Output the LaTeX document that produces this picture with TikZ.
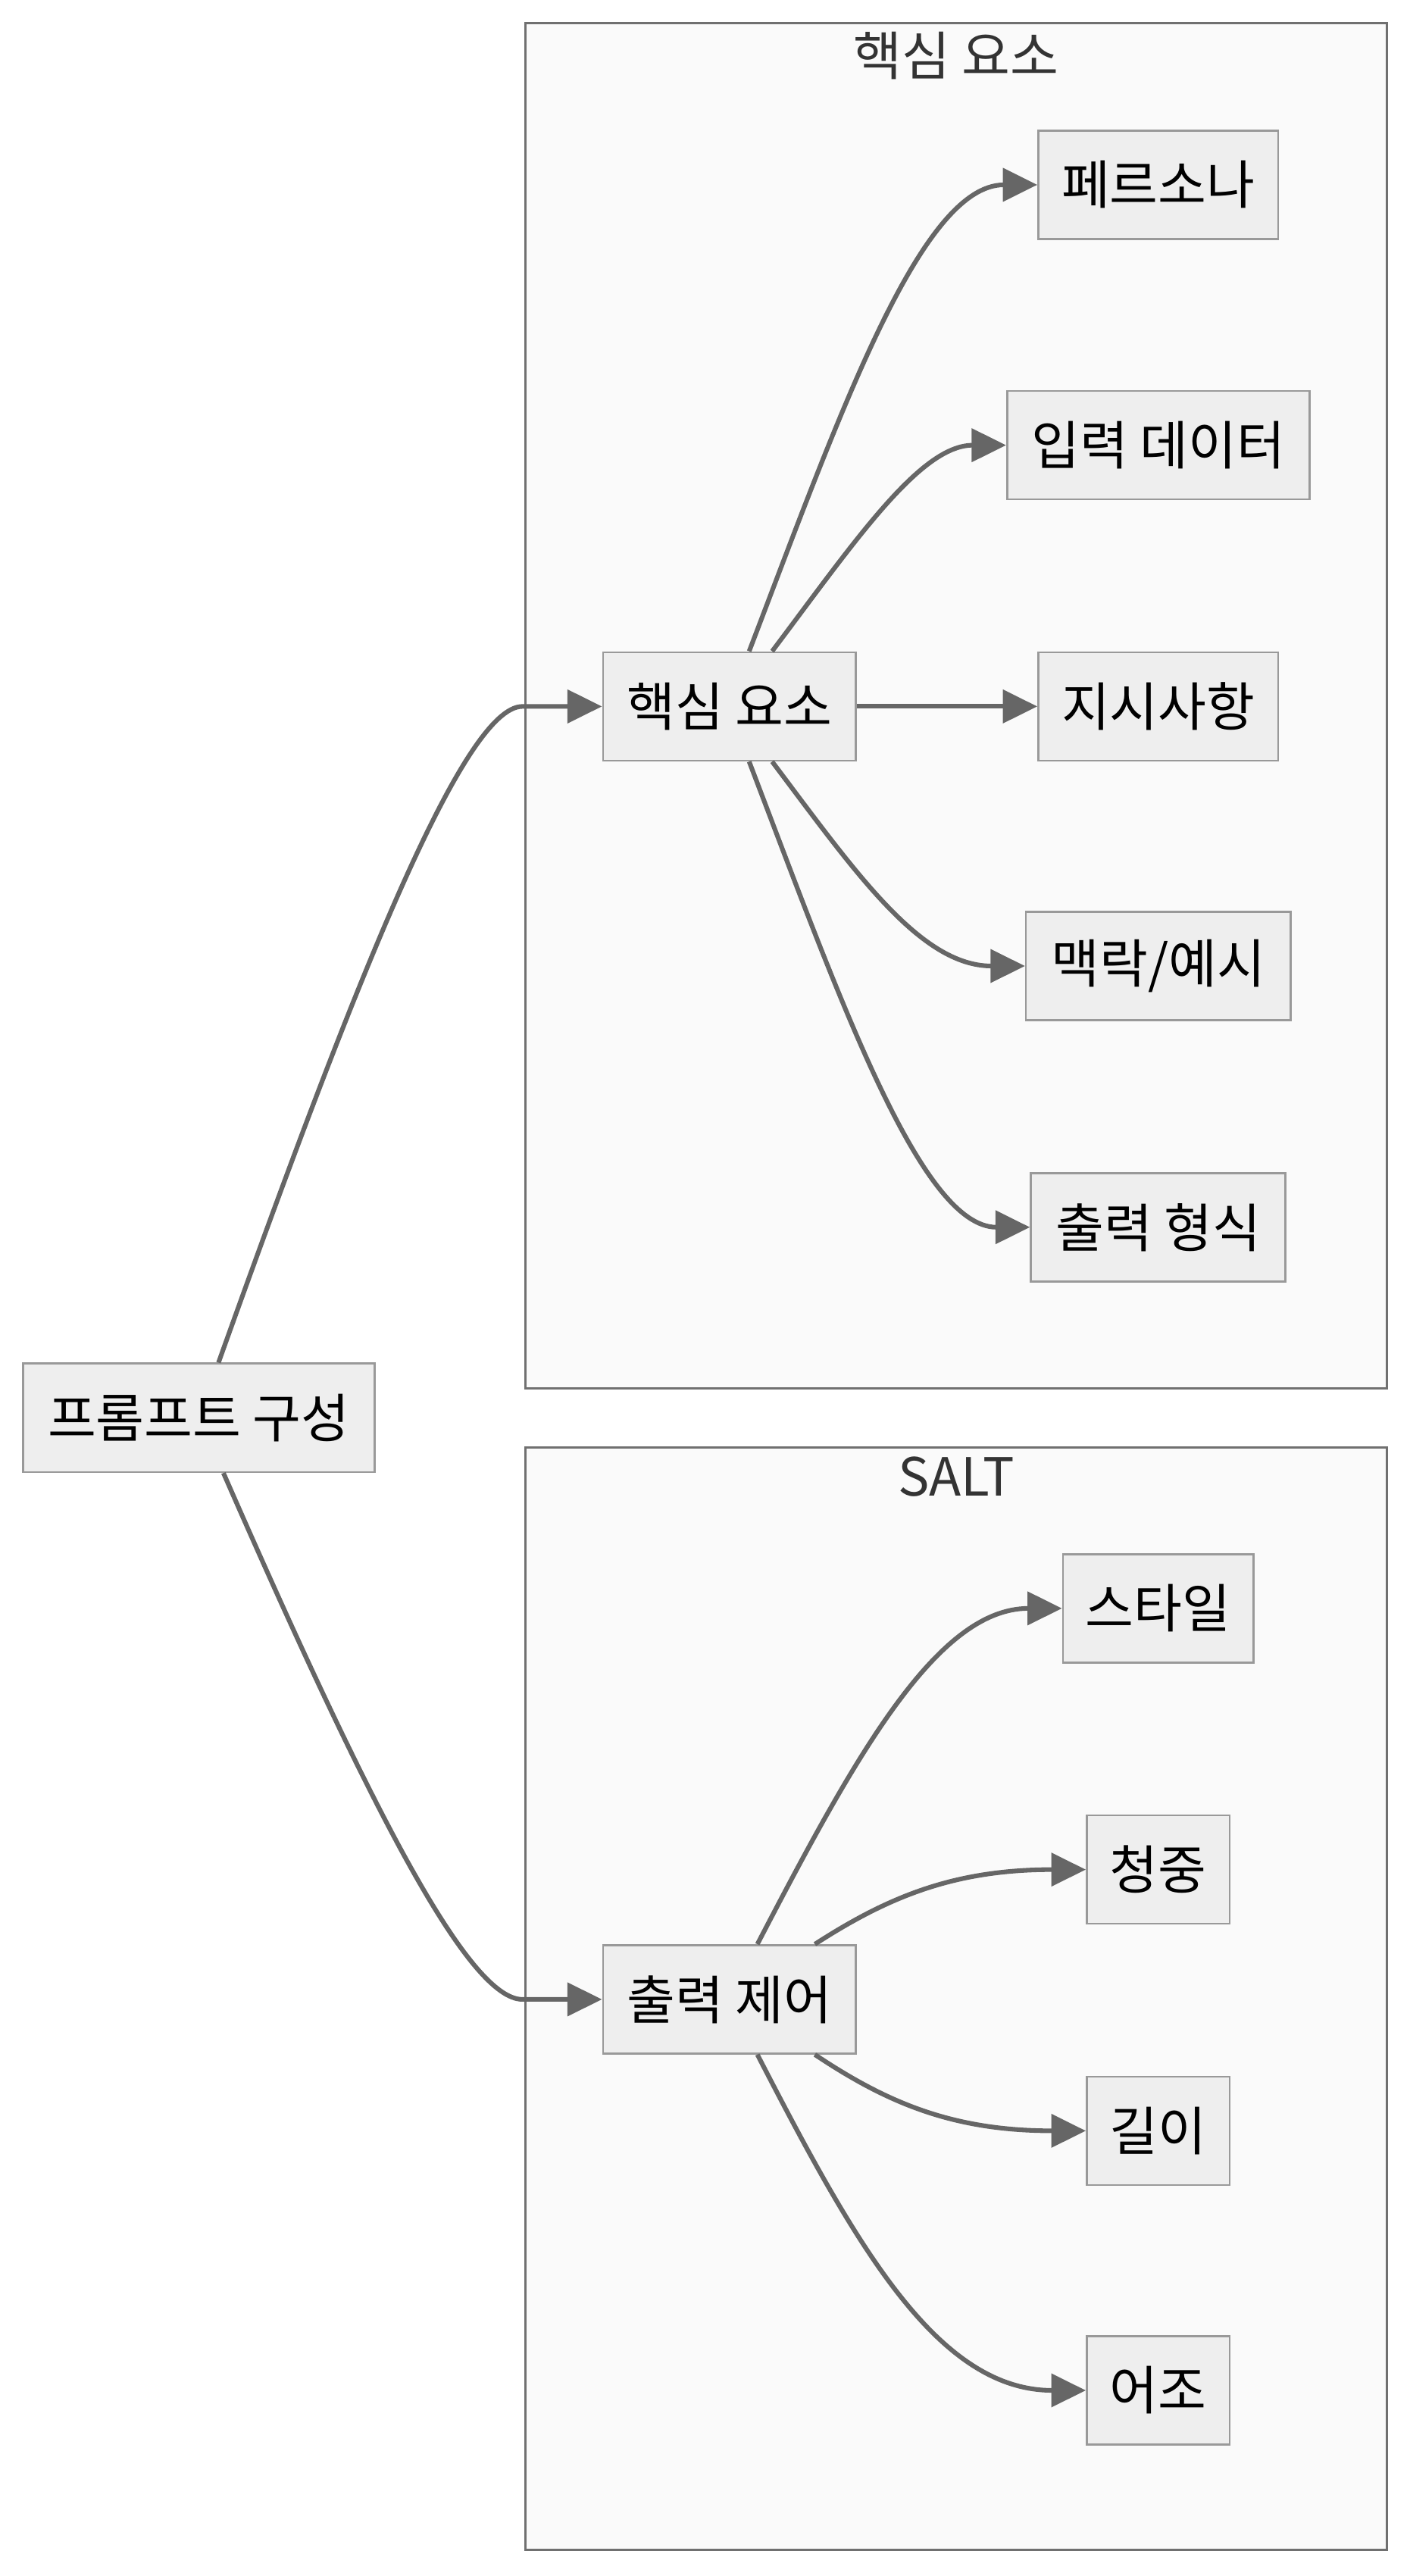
\documentclass[tikz,border=0pt]{standalone}
\usepackage{fontspec}
\setmainfont{Noto Sans CJK KR}
\usetikzlibrary{arrows.meta}
\definecolor{boxfill}{HTML}{EEEEEE}
\definecolor{boxline}{HTML}{999999}
\definecolor{edgecol}{HTML}{666666}
\definecolor{grpfill}{HTML}{FAFAFA}
\definecolor{grpline}{HTML}{707070}
\definecolor{grptext}{HTML}{333333}
\tikzset{
  item/.style={draw=boxline, fill=boxfill, line width=1.2pt, inner sep=0pt,
    minimum height=66pt, text=black, font=\fontsize{32}{38}\selectfont},
  group/.style={draw=grpline, fill=grpfill, line width=1.4pt, inner sep=0pt},
  grouptitle/.style={text=grptext, inner sep=0pt, font=\fontsize{32}{38}\selectfont},
  edge/.style={draw=edgecol, line width=2.8pt,
    -{Triangle[length=21pt, width=20pt]}},
}
\begin{document}
\begin{tikzpicture}[x=1pt, y=-1pt]
  \useasboundingbox[fill=white] (0,0) rectangle (858,1568);

  % groups
  \node[group, minimum width=524pt, minimum height=831pt] (gcore) at (582,429.5) {};
  \node[grouptitle] (gcoret) at (582,34) {핵심 요소};
  \node[group, minimum width=524pt, minimum height=671pt] (gsalt) at (582,1216.5) {};
  \node[grouptitle] (gsaltt) at (582,899) {SALT};

  % nodes
  \node[item, minimum width=214pt] (prompt) at (121,863) {프롬프트 구성};
  \node[item, minimum width=154pt] (core) at (444,430) {핵심 요소};
  \node[item, minimum width=146pt] (persona) at (705,112.5) {페르소나};
  \node[item, minimum width=184pt] (input) at (705,271) {입력 데이터};
  \node[item, minimum width=146pt] (instr) at (705,430) {지시사항};
  \node[item, minimum width=161pt] (context) at (705,588) {맥락/예시};
  \node[item, minimum width=155pt] (format) at (705,747) {출력 형식};

  \node[item, minimum width=154pt] (ctrl) at (444,1217) {출력 제어};
  \node[item, minimum width=116pt] (style) at (705,979) {스타일};
  \node[item, minimum width=87pt] (aud) at (705,1138) {청중};
  \node[item, minimum width=87pt] (len) at (705,1297) {길이};
  \node[item, minimum width=87pt] (tone) at (705,1455) {어조};

  % connectors from the root
  \draw[edge] ([xshift=12pt]prompt.north) .. controls (215,600) and (282,430) .. (318,430) -- (core.west);
  \draw[edge] ([xshift=15pt]prompt.south) .. controls (225,1100) and (285,1217) .. (318,1217) -- (ctrl.west);

  % core elements
  \draw[edge] ([xshift=12pt]core.north) .. controls (510,255) and (560,112.5) .. (persona.west);
  \draw[edge] ([xshift=26pt]core.north) .. controls (520,330) and (560,271) .. (input.west);
  \draw[edge] (core.east) -- (instr.west);
  \draw[edge] ([xshift=26pt]core.south) .. controls (520,530) and (560,588) .. (context.west);
  \draw[edge] ([xshift=12pt]core.south) .. controls (510,605) and (560,747) .. (format.west);

  % output control
  \draw[edge] ([xshift=17pt]ctrl.north) .. controls (520,1070) and (570,979) .. (style.west);
  \draw[edge] ([xshift=52pt]ctrl.north) .. controls (540,1155) and (580,1138) .. (aud.west);
  \draw[edge] ([xshift=52pt]ctrl.south) .. controls (540,1280) and (580,1297) .. (len.west);
  \draw[edge] ([xshift=17pt]ctrl.south) .. controls (520,1365) and (570,1455) .. (tone.west);
\end{tikzpicture}
\end{document}
